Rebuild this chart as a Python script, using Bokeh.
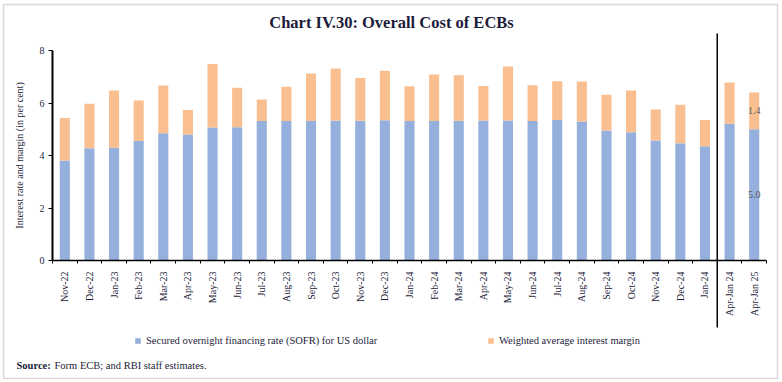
from math import pi
from bokeh.plotting import figure
from bokeh.models import (Range1d, FixedTicker, Label, Legend, LegendItem, Arrow,
                          PolyAnnotation)
from bokeh.embed import file_html
from bokeh.resources import INLINE

months = ["Nov-22", "Dec-22", "Jan-23", "Feb-23", "Mar-23", "Apr-23", "May-23",
          "Jun-23", "Jul-23", "Aug-23", "Sep-23", "Oct-23", "Nov-23", "Dec-23",
          "Jan-24", "Feb-24", "Mar-24", "Apr-24", "May-24", "Jun-24", "Jul-24",
          "Aug-24", "Sep-24", "Oct-24", "Nov-24", "Dec-24", "Jan-24",
          "Apr-Jan 24", "Apr-Jan 25"]
sofr = [3.81, 4.28, 4.30, 4.55, 4.85, 4.80, 5.07, 5.08, 5.31, 5.31, 5.31, 5.33,
        5.32, 5.34, 5.31, 5.31, 5.32, 5.33, 5.33, 5.31, 5.35, 5.30, 4.95, 4.89,
        4.57, 4.47, 4.35, 5.21, 5.0]
margin = [1.62, 1.69, 2.18, 1.55, 1.82, 0.93, 2.42, 1.50, 0.82, 1.31, 1.81, 1.98,
          1.63, 1.89, 1.33, 1.78, 1.74, 1.32, 2.06, 1.37, 1.48, 1.52, 1.36, 1.59,
          1.18, 1.46, 1.00, 1.57, 1.4]
y_ticks = [0, 2, 4, 6, 8]
value_labels = ["5.0", "1.4"]

BLUE = "#95b0dc"
ORANGE = "#f9bf90"
TXT = "#1c1c3a"
FONT = "Liberation Serif"

W, H = 780, 380
n = len(months)
xs = list(range(n))

# pixel geometry of the data area (canvas pixels)
X0, XS = 52.0, 714.0 / n      # x = -0.5 at X0, px per category
Y0, YS = 260.0, 210.0 / 8     # y = 0 at Y0, px per unit

def px_x(px):
    return -0.5 + (px - X0) / XS

def px_y(py):
    return (Y0 - py) / YS

p = figure(width=W, height=H, output_backend="svg", toolbar_location=None,
           title=None,
           x_range=Range1d(px_x(0), px_x(W)), y_range=Range1d(px_y(H), px_y(0)),
           min_border=0, min_border_left=0, min_border_right=0,
           min_border_top=0, min_border_bottom=0)
p.outline_line_color = None
p.xgrid.visible = False
p.ygrid.visible = False
p.background_fill_color = "white"
p.border_fill_color = "white"

src = dict(x=xs, sofr=sofr, margin=margin)
rs = p.vbar_stack(["sofr", "margin"], x="x", width=0.41, color=[BLUE, ORANGE],
                  line_color=None, source=src)

# axes (fixed inside the canvas)
xa = p.xaxis[0]
xa.fixed_location = 0
xa.bounds = (-0.5, n - 0.5)
xa.ticker = FixedTicker(ticks=xs, minor_ticks=[i + 0.5 for i in range(-1, n)])
xa.major_label_overrides = {i: m for i, m in enumerate(months)}
xa.major_label_orientation = pi / 2
xa.major_tick_out = 0
xa.major_tick_in = 0
xa.minor_tick_out = 3
xa.minor_tick_in = 0
xa.axis_line_width = 1.5
xa.axis_line_color = "black"
xa.minor_tick_line_color = "black"
xa.major_label_standoff = 8
xa.major_label_text_font = FONT
xa.major_label_text_font_size = "10px"
xa.major_label_text_color = TXT

ya = p.yaxis[0]
ya.fixed_location = -0.5
ya.bounds = (0, 8)
ya.ticker = FixedTicker(ticks=y_ticks)
ya.major_tick_out = 4
ya.major_tick_in = 0
ya.minor_tick_line_color = None
ya.axis_line_width = 2
ya.axis_line_color = "black"
ya.major_label_standoff = 4
ya.major_label_text_font = FONT
ya.major_label_text_font_size = "10px"
ya.major_label_text_color = TXT
ya.axis_label = "Interest rate and margin (in per cent)"
ya.axis_label_text_font = FONT
ya.axis_label_text_font_size = "10px"
ya.axis_label_text_font_style = "normal"
ya.axis_label_text_color = TXT
ya.axis_label_standoff = 12

# separator line between monthly and period bars
p.add_layout(Arrow(end=None, x_start=n - 2.5, x_end=n - 2.5,
                   y_start=px_y(33), y_end=px_y(327),
                   line_color="black", line_width=1.5))

# value labels on last bar
p.add_layout(Label(x=xs[-1], y=sofr[-1] / 2, text=value_labels[0],
                   text_align="center", text_baseline="middle",
                   text_font=FONT, text_font_size="10px", text_color="#595959"))
p.add_layout(Label(x=xs[-1], y=sofr[-1] + margin[-1] / 2, text=value_labels[1],
                   text_align="center", text_baseline="middle",
                   text_font=FONT, text_font_size="10px", text_color="#595959"))

# title
p.add_layout(Label(x=px_x(391), y=px_y(22), text="Chart IV.30: Overall Cost of ECBs",
                   text_align="center", text_baseline="middle", text_font=FONT,
                   text_font_size="16.5px", text_font_style="bold", text_color=TXT))

# source
p.add_layout(Label(x=px_x(16), y=px_y(365), text="Source:", text_align="left",
                   text_baseline="middle", text_font=FONT, text_font_size="10.5px",
                   text_font_style="bold", text_color=TXT))
p.add_layout(Label(x=px_x(54), y=px_y(365), text="Form ECB; and RBI staff estimates.",
                   text_align="left", text_baseline="middle", text_font=FONT,
                   text_font_size="10.5px", text_color=TXT))

# legends
for r, lab, gx in [(rs[0], "Secured overnight financing rate (SOFR) for US dollar", 134),
                   (rs[1], "Weighted average interest margin", 487)]:
    lg = Legend(items=[LegendItem(label=lab, renderers=[r])],
                location=(gx, H - 346),
                orientation="horizontal", glyph_width=7, glyph_height=7,
                label_height=12, label_width=10, label_standoff=5, padding=0,
                margin=0, spacing=0, border_line_color=None,
                background_fill_alpha=0, label_text_font=FONT,
                label_text_font_size="10.5px", label_text_color=TXT,
                label_text_baseline="middle")
    p.add_layout(lg)

# outer border
p.add_layout(PolyAnnotation(xs=[px_x(3), px_x(777), px_x(777), px_x(3)],
                            ys=[px_y(4), px_y(4), px_y(378), px_y(378)],
                            fill_alpha=0, line_color="#808080", line_width=1.5))

open("out.html", "w").write(file_html(p, INLINE))
